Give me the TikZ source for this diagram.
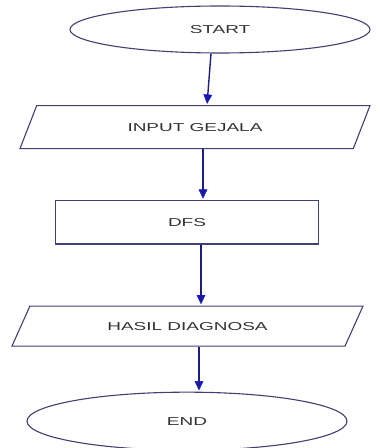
\documentclass[tikz,border=0pt]{standalone}
\usepackage{fontspec}
\newfontfamily\flowfont{Liberation Sans}[FakeStretch=1.65]
\usepackage{xcolor}
\definecolor{lineblue}{RGB}{64,64,116}
\definecolor{navy}{RGB}{30,30,128}
\definecolor{tipblue}{RGB}{20,20,205}
\definecolor{dgray}{RGB}{50,50,50}
\usetikzlibrary{positioning, shapes.geometric, arrows.meta, decorations.markings}
\tikzstyle{Box} = [
draw=lineblue,
line width=1.1pt,
inner sep=0pt,
text=dgray,
font=\flowfont\fontsize{11.5}{13}\selectfont]
\tikzstyle{Terminal} = [Box, ellipse]
\tikzstyle{Process} = [Box, rectangle]
\tikzstyle{Data} = [Box, trapezium, trapezium stretches body]
\tikzstyle{Arrow} = [
line width=1.4pt,
navy,
decoration={
markings,
mark=at position 0.9999 with {
\arrow[tipblue]{Triangle[length=11pt,width=10pt]}}},
shorten >= 4pt, preaction = {decorate}]

\begin{document}
\begin{tikzpicture}[x=1pt, y=1pt]
    \useasboundingbox (0,0) rectangle (380,448);
    \node [Terminal, minimum width=300pt, minimum height=47pt] (start) at (220,418.5) {START};
    \node [Data, below=51.5pt of start, xshift=-25pt, minimum width=350pt, minimum height=43pt,
        trapezium left angle=26, trapezium right angle=154] (input) {INPUT GEJALA};
    \node [Process, below=50.75pt of input, xshift=-8pt, minimum width=263pt, minimum height=43.5pt] (dfs) {DFS};
    \node [Data, below=61pt of dfs, xshift=0.5pt, minimum width=351pt, minimum height=40pt,
        trapezium left angle=24.4, trapezium right angle=155.6] (hasil) {HASIL DIAGNOSA};
    \node [Terminal, below=45pt of hasil, xshift=-0.5pt, minimum width=320pt, minimum height=58pt] (end) {END};

    \draw[Arrow] ([xshift=-9pt]start.south) -- ([xshift=12pt]input.north);
    \draw[Arrow] ([xshift=8pt]input.south) -- ([xshift=16pt]dfs.north);
    \draw[Arrow] ([xshift=14pt]dfs.south) -- ([xshift=13.5pt]hasil.north);
    \draw[Arrow] ([xshift=11.5pt]hasil.south) -- ([xshift=12pt]end.north);
\end{tikzpicture}
\end{document}
